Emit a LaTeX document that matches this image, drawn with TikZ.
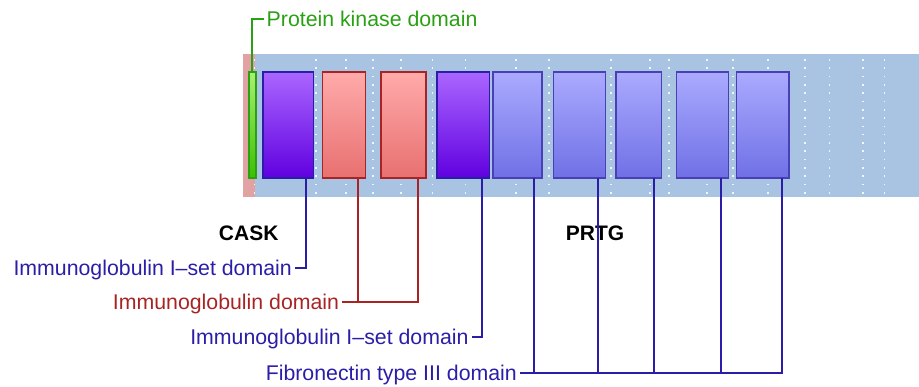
\documentclass[tikz,border=0pt]{standalone}
\usepackage{fontspec}
\setmainfont{Liberation Sans}
\definecolor{bandblue}{HTML}{A8C4E2}
\definecolor{bandred}{HTML}{E0A2A2}
\definecolor{lblblue}{HTML}{2A1EA8}
\definecolor{lblred}{HTML}{A82424}
\definecolor{lblgreen}{HTML}{2AA014}
\definecolor{purtop}{HTML}{AA66FF}
\definecolor{purbot}{HTML}{6000E0}
\definecolor{redtop}{HTML}{FFAAAA}
\definecolor{redbot}{HTML}{E87070}
\definecolor{blutop}{HTML}{AAAAFF}
\definecolor{blubot}{HTML}{7070E6}
\definecolor{grntop}{HTML}{A8F070}
\definecolor{grnbot}{HTML}{3CC000}
\tikzset{
  dombox/.style={draw, line width=1.6pt, inner sep=0pt, outer sep=0pt, minimum height=106pt, anchor=north west},
  purbox/.style={dombox, draw=lblblue, top color=purtop, bottom color=purbot},
  redbox/.style={dombox, draw=lblred, top color=redtop, bottom color=redbot},
  blubox/.style={dombox, draw=lblblue!85!white, top color=blutop, bottom color=blubot},
  grnbox/.style={dombox, draw=lblgreen, top color=grntop, bottom color=grnbot},
  lbl/.style={font=\fontsize{21.3}{25}\selectfont, inner ysep=0pt, inner xsep=3pt, text height=15.2pt, text depth=0pt},
  protname/.style={font=\fontsize{21}{25}\selectfont\bfseries, inner sep=0pt, text height=15pt, text depth=0pt},
  bline/.style={draw=lblblue, line width=2pt},
  rline/.style={draw=lblred, line width=2pt},
  gline/.style={draw=lblgreen, line width=2pt},
}
\begin{document}
\begin{tikzpicture}[x=1pt,y=-1pt]
\useasboundingbox (0,0) rectangle (919,387);
% band
\fill[bandred] (243,54) rectangle (255,197);
\fill[bandblue] (255,54) rectangle (919,197);
% dotted grid
\foreach \gx in {254.5,316,345.7,372.7,400.7,432.3,465.3,515.7,549,611,650,669,706.7,732.7,768,805,829.3,862.7,884.3}{
  \foreach \gi in {0,...,16}{
    \fill[white, opacity=0.85] ({\gx-0.8},{59.2+\gi*8.3}) rectangle ({\gx+0.8},{60.8+\gi*8.3});
  }
}
% protein names
\node[protname] (cask) at (248.7,232.7) {CASK};
\node[protname] (prtg) at (595,232.7) {PRTG};
% domain boxes
\node[grnbox, minimum width=6.7pt] (b0) at (249,72) {};
\node[purbox, minimum width=50.6pt] (b1) at (262.7,72) {};
\node[redbox, minimum width=43pt] (b2) at (322.3,72) {};
\node[redbox, minimum width=45pt] (b3) at (381,72) {};
\node[purbox, minimum width=52.6pt] (b4) at (436.7,72) {};
\node[blubox, minimum width=49pt] (b5) at (493,72) {};
\node[blubox, minimum width=52pt] (b6) at (553.3,72) {};
\node[blubox, minimum width=45.3pt] (b7) at (616,72) {};
\node[blubox, minimum width=52pt] (b8) at (676.3,72) {};
\node[blubox, minimum width=52.7pt] (b9) at (736.3,72) {};
% labels
\node[lbl, text=lblgreen, anchor=west] (lpk) at (263.5,18.7) {Protein kinase domain};
\node[lbl, text=lblblue, anchor=east] (l1) at (295,268.2) {Immunoglobulin I–set domain};
\node[lbl, text=lblred, anchor=east] (l2) at (342.3,302.3) {Immunoglobulin domain};
\node[lbl, text=lblblue, anchor=east] (l3) at (471.7,336.7) {Immunoglobulin I–set domain};
\node[lbl, text=lblblue, anchor=east] (lf) at (520,373.3) {Fibronectin type III domain};
% stem points
\coordinate (s1) at ([xshift=43.1pt]b1.south west);
\coordinate (s2) at ([xshift=36pt]b2.south west);
\coordinate (s3) at ([xshift=37.3pt]b3.south west);
\coordinate (s4) at ([xshift=45pt]b4.south west);
\coordinate (s5) at ([xshift=41pt]b5.south west);
\coordinate (s6) at ([xshift=44.4pt]b6.south west);
\coordinate (s7) at ([xshift=38pt]b7.south west);
\coordinate (s8) at ([xshift=44.7pt]b8.south west);
\coordinate (s9) at ([xshift=45.4pt]b9.south west);
% connectors
\draw[gline] (b0.north) |- (lpk.west);
\draw[bline] (s1) |- (l1.east);
\draw[rline] (s3) |- (l2.east);
\draw[rline] (s2) -- (s2 |- l2.east);
\draw[bline] (s4) |- (l3.east);
\draw[bline] (s9) |- (lf.east);
\foreach \s in {s5,s6,s7,s8}{
  \draw[bline] (\s) -- (\s |- lf.east);
}
\end{tikzpicture}
\end{document}
